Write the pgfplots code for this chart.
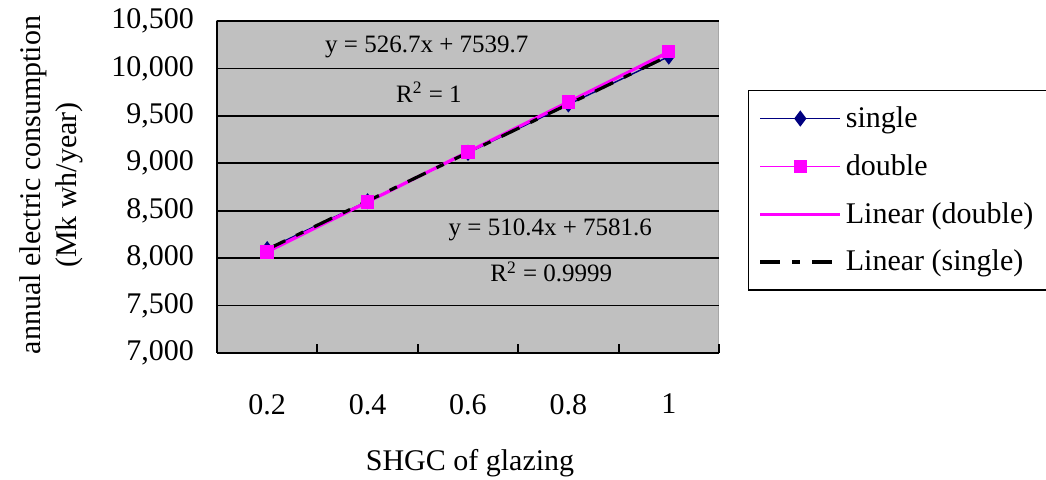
\documentclass[border=0pt]{standalone}
\usepackage{pgfplots}
\pgfplotsset{compat=1.18}
\usepackage{fontspec}
\setmainfont{Liberation Serif}
\definecolor{plotgray}{HTML}{C0C0C0}
\definecolor{navyser}{HTML}{000080}
\definecolor{mag}{HTML}{FF00FF}

\begin{document}
\begin{tikzpicture}
\begin{axis}[
  scale only axis,
  width=251pt, height=166pt,
  xmin=0.5, xmax=5.5,
  ymin=7000, ymax=10500,
  axis x line*=bottom, axis y line*=left,
  axis line style={black, line width=0.9pt},
  axis background/.style={fill=plotgray, draw=gray!70, line width=0.5pt},
  xtick={1.5,2.5,3.5,4.5,5.5},
  xticklabels={},
  extra x ticks={1,2,3,4,5},
  extra x tick labels={0.2,0.4,0.6,0.8,1},
  extra x tick style={major tick length=0pt, grid=none},
  ytick={7000,7500,...,10500},
  major y tick style={draw=none},
  ymajorgrids,
  grid style={black, line width=0.8pt},
  tick align=inside,
  major tick length=4.5pt,
  tick style={black, line width=1pt},
  scaled ticks=false,
  /pgf/number format/.cd, fixed, 1000 sep={,}, assume math mode=true, /pgfplots/.cd,
  ticklabel style={font=\fontsize{15}{18}\selectfont},
  xticklabel style={yshift=-17pt},
  yticklabel style={xshift=-8pt},
  xlabel={SHGC of glazing},
  ylabel={annual electric consumption\\(Mk wh/year)},
  label style={font=\fontsize{15}{18}\selectfont},
  xlabel style={at={(axis description cs:0.504,-0.331)}, anchor=center},
  ylabel style={at={(axis description cs:-0.33,0.506)}, anchor=center, align=center, rotate=0},
  legend style={at={(axis description cs:1.058,0.792)}, anchor=north west,
    draw=black, line width=0.6pt, fill=white, font=\fontsize{15}{18}\selectfont,
    inner xsep=5pt, inner ysep=6pt, row sep=8pt,
    /tikz/every even column/.append style={column sep=0pt}},
  legend cell align=left,
  legend image code/.code={\draw[mark repeat=2,mark phase=2] plot coordinates {(0pt,0pt) (20pt,0pt) (40pt,0pt)};},
]
\addplot[navyser, line width=0.7pt, mark=diamond*, mark size=3.5pt, mark options={solid, fill=navyser}]
  coordinates {(1,8095) (2,8600) (3,9110) (4,9620) (5,10125)};
\addlegendentry{single}
\addplot[mag, line width=0.7pt, mark=square*, mark size=3pt, mark options={solid, fill=mag}]
  coordinates {(1,8066) (2,8593) (3,9120) (4,9647) (5,10180)};
\addlegendentry{double}
\addplot[mag, line width=1.6pt, no marks]
  coordinates {(1,8066.4) (5,10173.2)};
\addlegendentry{Linear (double)}
\addplot[black, line width=1.6pt, no marks, dash pattern=on 10pt off 6pt on 4pt off 6pt]
  coordinates {(1,8092.0) (5,10133.6)};
\addlegendentry{Linear (single)}
\node[font=\fontsize{12.5}{14}\selectfont, anchor=center] at (axis cs:2.59,10226) {y = 526.7x + 7539.7};
\node[font=\fontsize{12.5}{14}\selectfont, anchor=center] at (axis cs:2.61,9751) {R\textsuperscript{2} = 1};
\node[font=\fontsize{12.5}{14}\selectfont, anchor=center] at (axis cs:3.82,8296) {y = 510.4x + 7581.6};
\node[font=\fontsize{12.5}{14}\selectfont, anchor=center] at (axis cs:3.83,7854) {R\textsuperscript{2} = 0.9999};
\end{axis}
\pgfresetboundingbox
\path (-108.5pt,-63.5pt) rectangle (414.5pt,176.5pt);
\end{tikzpicture}
\end{document}
